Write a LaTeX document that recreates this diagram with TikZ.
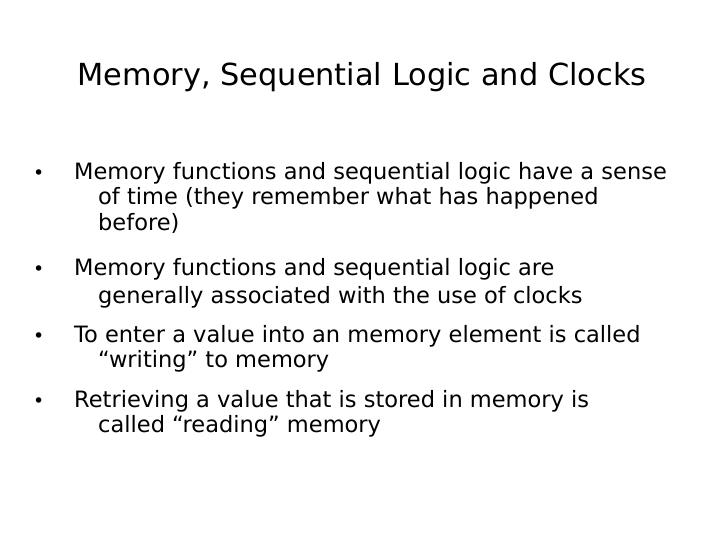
\documentclass[tikz,border=0pt]{standalone}
\usepackage{fontspec}
\setmainfont{DejaVu Sans}
\begin{document}
\begin{tikzpicture}[x=1bp,y=-1bp,
  ln/.style={anchor=base west,inner sep=0pt,font=\fontsize{22.6}{26}\selectfont},
  bul/.style={anchor=base west,inner sep=0pt,font=\fontsize{19}{22}\selectfont}]
\useasboundingbox[fill=white] (0,0) rectangle (720,540);
\node[anchor=base,inner sep=0pt,font=\fontsize{30.5}{36}\selectfont] (title) at (362,86) {Memory, Sequential Logic and Clocks};
\node[bul] (b1) at (33,180) {•};
\node[ln] (l1a) at (74,180) {Memory functions and sequential logic have a sense};
\node[ln] (l1b) at (98,205) {of time (they remember what has happened};
\node[ln] (l1c) at (98,231) {before)};
\node[bul] (b2) at (33,276) {•};
\node[ln] (l2a) at (74,276) {Memory functions and sequential logic are};
\node[ln] (l2b) at (98,303) {generally associated with the use of clocks};
\node[bul] (b3) at (33,342) {•};
\node[ln] (l3a) at (74,342) {To enter a value into an memory element is called};
\node[ln] (l3b) at (98,367) {“writing” to memory};
\node[bul] (b4) at (33,407) {•};
\node[ln] (l4a) at (74,407) {Retrieving a value that is stored in memory is};
\node[ln] (l4b) at (98,432) {called “reading” memory};
\end{tikzpicture}
\end{document}
